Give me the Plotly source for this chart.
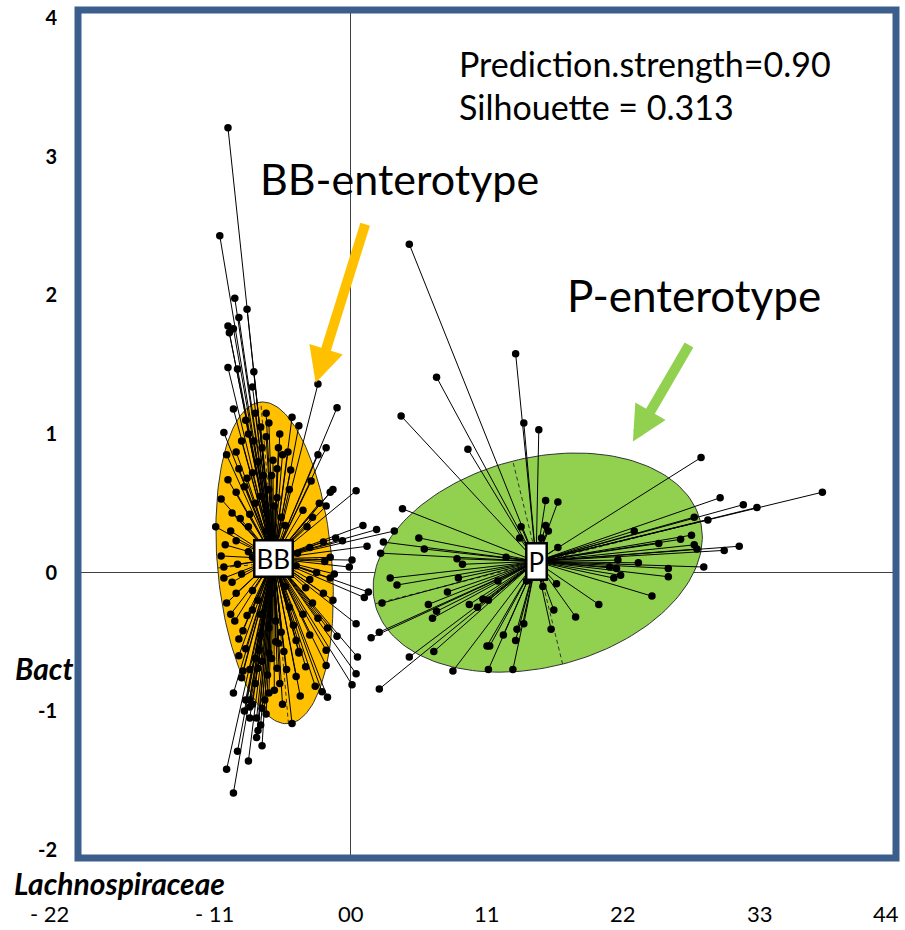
import numpy as np
import plotly.graph_objects as go

# ---------------- data ----------------
bb_x = [-0.90, -0.96, -0.85, -0.76, -0.82, -0.90, -0.86, -0.89, -0.90, -0.83, -0.71, -0.72, -0.24,
        -0.86, -0.10, -0.43, -0.38, -0.60, -0.93, -0.53, -0.46, -0.24, -0.18, -0.84, -0.91, -0.71,
        -0.65, -0.57, -0.54, -0.44, -0.82, -0.90, -0.29, -0.76, -0.13, -0.15, 0.04, -0.84, -0.95,
        -0.54, -0.23, -0.18, -0.87, -0.81, -0.99, -0.88, -0.75, -0.51, -0.48, -0.32, 0.09, 0.19,
        0.32, -0.11, -0.06, 0.12, -0.84, -0.30, -0.39, -0.15, 0.01, -0.19, -0.01, -0.12, -0.15,
        -0.93, -0.83, -0.72, -0.93, -0.87, -0.80, 0.13, 0.10, -0.33, -0.13, -0.91, -0.72, -0.24,
        0.04, -0.85, -0.17, -0.10, -0.79, -0.76, -0.72, -0.51, -0.40, -0.53, -0.38, 0.05, -0.82,
        -0.67, -0.49, -0.60, -0.65, -0.68, -0.54, -0.61, -0.18, 0.04, 0.01, -0.86, -0.79, -0.80,
        -0.26, -0.21, -0.17, -0.37, -0.74, -0.60, -0.65, -0.43, -0.77, -0.74, -0.69, -0.74, -0.68,
        -0.69, -0.65, -0.83, -0.75, -0.91, -0.86, -0.18, -0.38, -0.62, -0.50, -0.68, -0.45, -0.55,
        -0.70, -0.60, -0.66, -0.48, -0.40, -0.75, -0.58, -0.62, -0.52, -0.64,
        -0.70, -0.66, -0.75, -0.62, -0.80, -0.68, -0.72, -0.58, -0.78, -0.66, -0.74, -0.56, -0.92,
        -0.95, -0.45, -0.35, -0.28, -0.20, -0.25, -0.30, -0.20, -0.28, -0.35, -0.42, -0.30, -0.47,
        -0.56, -0.63, -0.70, -0.74, -0.77, -0.82, -0.88, -0.84, -0.70, -0.58, -0.50, -0.40, -0.33,
        -0.66, -0.72, -0.62, -0.78, -0.55, -0.60, -0.66, -0.50, -0.62, -0.77, -0.52]
bb_y = [3.21, 2.43, 1.98, 1.90, 1.84, 1.78, 1.76, 1.73, 1.48, 1.47, 1.45, 1.34, 1.36,
        1.18, 1.19, 1.12, 1.06, 1.08, 1.01, 0.90, 0.87, 0.85, 0.90, 0.87, 0.85, 0.95,
        0.90, 0.81, 0.75, 0.74, 0.75, 0.67, 0.66, 0.68, 0.60, 0.58, 0.59, 0.58, 0.53,
        0.54, 0.50, 0.48, 0.43, 0.39, 0.33, 0.30, 0.33, 0.40, 0.34, 0.33, 0.34, 0.31,
        0.30, 0.25, 0.23, 0.19, 0.23, 0.18, 0.14, 0.11, 0.09, 0.08, 0.04, -0.01, -0.04,
        0.04, 0.06, 0.11, -0.04, -0.07, -0.01, -0.14, -0.18, -0.11, -0.20, -0.22, -0.13, -0.33,
        -0.37, -0.35, -0.40, -0.46, -0.42, -0.31, -0.27, -0.43, -0.49, -0.51, -0.58, -0.61, -0.60,
        -0.56, -0.57, -0.58, -0.64, -0.69, -0.69, -0.74, -0.67, -0.73, -0.81, -0.87, -0.71, -0.76,
        -0.82, -0.86, -0.90, -0.89, -0.92, -0.87, -0.98, -1.09, -0.92, -0.97, -1.05, -1.05, -1.14,
        -1.19, -1.25, -1.29, -1.36, -1.42, -1.59, -0.56, -0.57, 0.30, 0.20, -0.20, -0.25, -0.35,
        0.50, 0.60, -0.45, -0.10, 0.05, 0.15, -0.15, 0.45, -0.80, 0.70,
        1.15, 1.05, 1.00, 0.98, 0.95, 0.80, 0.72, 0.70, 0.62, 0.55, 0.42, 0.48, 0.20,
        0.12, 0.60, 0.45, 0.40, 0.22, 0.00, -0.05, -0.15, -0.22, -0.30, -0.38, -0.45, -0.70,
        -0.85, -0.92, -0.80, -0.70, -0.55, -0.48, -0.30, -0.15, -0.62, -0.62, -0.95, -0.75, -0.68,
        -1.10, -0.95, -1.02, -1.00, -0.50, -0.40, -0.30, 0.85, 1.15, 1.10, 1.00]

p_x = [0.43, 1.21, 0.63, 0.37, 1.27, 1.38, 0.86, 2.57, 3.46, 2.71, 2.88, 2.98, 0.38, 1.43,
       1.52, 2.52, 2.62, 1.25, 1.43, 1.45, 2.08, 2.50, 1.40, 1.24, 0.50, 0.24, 2.42, 2.26,
       2.52, 2.85, 2.54, 0.54, 1.52, 2.74, 0.22, 0.78, 1.96, 1.14, 0.82, 2.11, 1.90, 1.95,
       2.33, 2.59, 1.98, 1.93, 2.33, 0.29, 0.34, 0.79, 1.08, 1.29, 1.51, 1.41, 0.71, 2.21,
       0.23, 1.82, 0.57, 0.87, 0.93, 0.97, 1.01, 1.49, 0.63, 0.60, 1.65, 1.27, 1.47, 1.22,
       0.21, 0.15, 1.12, 1.21, 1.00, 1.02, 0.61, 0.43, 0.75, 1.01, 1.19, 0.21]
p_y = [2.37, 1.58, 1.41, 1.13, 1.08, 1.03, 0.89, 0.83, 0.58, 0.54, 0.49, 0.47, 0.46, 0.52,
       0.51, 0.40, 0.38, 0.33, 0.34, 0.30, 0.30, 0.27, 0.25, 0.25, 0.25, 0.22, 0.24, 0.21,
       0.20, 0.19, 0.17, 0.17, 0.18, 0.16, 0.14, 0.10, 0.09, 0.11, 0.06, 0.07, 0.04, 0.03,
       0.03, 0.04, -0.02, -0.04, -0.03, -0.04, -0.09, -0.04, -0.06, -0.06, -0.08, -0.10, -0.14, -0.17,
       -0.22, -0.23, -0.23, -0.23, -0.25, -0.19, -0.20, -0.27, -0.28, -0.33, -0.32, -0.37, -0.41, -0.41,
       -0.43, -0.47, -0.45, -0.49, -0.53, -0.53, -0.57, -0.61, -0.71, -0.70, -0.70, -0.84]

# cluster centres (label positions)
bb_center = (-0.565, 0.10)
p_center = (1.36, 0.08)

# ellipse parameters: centre x, centre y, semi-major, semi-minor, angle of major axis (deg)
bb_ellipse = dict(cx=-0.558, cy=0.07, a=1.165, b=0.42, ang=95.0)
p_ellipse = dict(cx=1.372, cy=0.072, a=1.23, b=0.755, ang=14.0)

x_tickvals = [-2, -1, 0, 1, 2, 3, 4]
x_ticktext = ["- 22", "- 11", "00", "11", "22", "33", "44"]
y_tickvals = [-2, -1, 0, 1, 2, 3, 4]
y_ticktext = ["-2", "-1", "0", "1", "2", "3", "4"]

X_RANGE = [-2.0, 4.0]
Y_RANGE = [-2.06, 4.06]

ORANGE = "#FFC000"
GREEN = "#92D050"
FRAME = "#3B5E8C"
FONT = "Lato, 'Open Sans', sans-serif"


def ellipse_xy(e, n=181):
    t = np.linspace(0, 2 * np.pi, n)
    th = np.deg2rad(e["ang"])
    x = e["cx"] + e["a"] * np.cos(t) * np.cos(th) - e["b"] * np.sin(t) * np.sin(th)
    y = e["cy"] + e["a"] * np.cos(t) * np.sin(th) + e["b"] * np.sin(t) * np.cos(th)
    return x, y


def axes_xy(e):
    th = np.deg2rad(e["ang"])
    xs, ys = [], []
    for (ux, uy, r) in [(np.cos(th), np.sin(th), e["a"]), (-np.sin(th), np.cos(th), e["b"])]:
        xs += [e["cx"] - r * ux, e["cx"] + r * ux, None]
        ys += [e["cy"] - r * uy, e["cy"] + r * uy, None]
    return xs, ys


def spokes(center, xs, ys):
    lx, ly = [], []
    for x, y in zip(xs, ys):
        lx += [center[0], x, None]
        ly += [center[1], y, None]
    return lx, ly


fig = go.Figure()

for e, col in [(bb_ellipse, ORANGE), (p_ellipse, GREEN)]:
    ex, ey = ellipse_xy(e)
    fig.add_trace(go.Scatter(x=ex, y=ey, mode="lines", fill="toself", fillcolor=col,
                             line=dict(color="#333333", width=1), hoverinfo="skip", showlegend=False))
    ax_, ay_ = axes_xy(e)
    fig.add_trace(go.Scatter(x=ax_, y=ay_, mode="lines",
                             line=dict(color="#333333", width=1, dash="4px,3px"),
                             hoverinfo="skip", showlegend=False))

for c, xs, ys in [(bb_center, bb_x, bb_y), (p_center, p_x, p_y)]:
    lx, ly = spokes(c, xs, ys)
    fig.add_trace(go.Scatter(x=lx, y=ly, mode="lines", line=dict(color="black", width=1),
                             hoverinfo="skip", showlegend=False))
    fig.add_trace(go.Scatter(x=xs, y=ys, mode="markers",
                             marker=dict(color="black", size=7.5, line=dict(width=0)),
                             showlegend=False))

# cluster labels
for txt, c in [("BB", bb_center), ("P", p_center)]:
    fig.add_annotation(x=c[0], y=c[1], text=txt, showarrow=False,
                       font=dict(family=FONT, size=26, color="black"),
                       bgcolor="white", bordercolor="black", borderwidth=2.5, borderpad=1)

# texts
fig.add_annotation(x=0.78, y=3.675, text="Prediction.strength=0.90", showarrow=False,
                   xanchor="left", yanchor="middle", font=dict(family=FONT, size=34, color="black"))
fig.add_annotation(x=0.78, y=3.36, text="Silhouette = 0.313", showarrow=False,
                   xanchor="left", yanchor="middle", font=dict(family=FONT, size=34, color="black"))
fig.add_annotation(x=-0.68, y=2.845, text="BB-enterotype", showarrow=False,
                   xanchor="left", yanchor="middle", font=dict(family=FONT, size=43, color="black"))
fig.add_annotation(x=1.57, y=2.0, text="P-enterotype", showarrow=False,
                   xanchor="left", yanchor="middle", font=dict(family=FONT, size=44, color="black"))

# arrows
fig.add_annotation(x=-0.257, y=1.37, ax=50, ay=-160, text="", showarrow=True,
                   arrowhead=2, arrowwidth=10, arrowsize=0.7, arrowcolor=ORANGE)
fig.add_annotation(x=2.07, y=0.946, ax=57, ay=-98, text="", showarrow=True,
                   arrowhead=2, arrowwidth=10, arrowsize=0.7, arrowcolor=GREEN)

# axis titles (partially hidden in original)
fig.add_annotation(xref="paper", yref="paper", x=-0.004, y=0.224, text="<b><i>Bact</i></b>",
                   showarrow=False, xanchor="right", yanchor="middle",
                   font=dict(family=FONT, size=30, color="black"))
fig.add_annotation(xref="paper", yref="paper", x=-0.0807, y=-0.002,
                   text="<b><i>Lachnospiraceae</i></b>", showarrow=False,
                   xanchor="left", yanchor="top", yshift=-3,
                   font=dict(family=FONT, size=30, color="black"))

# x tick labels (sitting well below the frame, end labels pulled inwards as in the original)
x_label_shift = [-29, 0, 0, 0, 0, 0, -10]
for v, t, s in zip(x_tickvals, x_ticktext, x_label_shift):
    fig.add_annotation(xref="paper", yref="paper",
                       x=(v - X_RANGE[0]) / (X_RANGE[1] - X_RANGE[0]), y=-0.066,
                       text=t, showarrow=False, xanchor="center", yanchor="middle", xshift=s,
                       font=dict(family=FONT, size=22, color="black"))

fig.add_shape(type="rect", xref="paper", yref="paper", x0=0, x1=1, y0=0, y1=1,
              line=dict(color=FRAME, width=7), layer="above")

fig.update_layout(
    width=905, height=930,
    margin=dict(l=78, r=9, t=10, b=72, autoexpand=False),
    paper_bgcolor="white", plot_bgcolor="white",
    showlegend=False,
    xaxis=dict(range=X_RANGE, showgrid=False, zeroline=True, zerolinecolor="#404040",
               zerolinewidth=1, tickvals=x_tickvals, showticklabels=False, ticks="",
               automargin=False, showline=False, fixedrange=True),
    yaxis=dict(range=Y_RANGE, showgrid=False, zeroline=True, zerolinecolor="#404040",
               zerolinewidth=1, tickvals=y_tickvals, ticktext=y_ticktext, ticks="",
               ticklabelstandoff=20, automargin=False,
               tickfont=dict(family=FONT, size=20, color="black", weight="bold"),
               showline=False, fixedrange=True),
)

fig.write_html("out.html")
